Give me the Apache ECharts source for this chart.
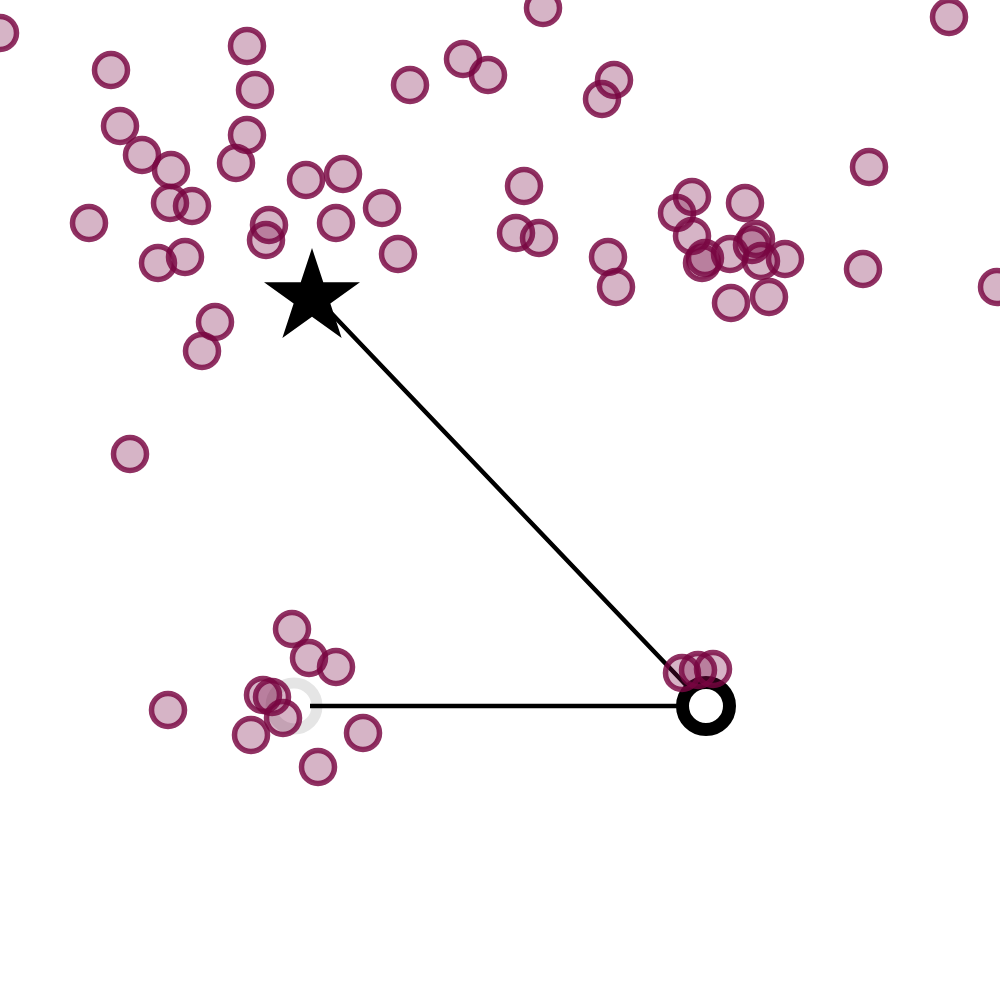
<!DOCTYPE html>
<html>
<head>
<meta charset="utf-8">
<script src="https://cdn.jsdelivr.net/npm/echarts@6/dist/echarts.min.js"></script>
<style>html,body{margin:0;padding:0;background:#fff}#c{width:1000px;height:1000px}</style>
</head>
<body>
<div id="c"></div>
<script>
// Scatter points (x, y) in chart units (y grows downward)
const pointsX = [0,111,247,255,120,142,171,170,192,89,247,236,269,266,158,185,306,343,336,382,398,215,202,130,
  410,463,488,543,614,602,524,516,539,608,616,949,869,863,997,
  692,677,692,745,756,752,705,702,730,761,785,731,769,
  682,698,713,
  292,309,336,263,272,283,251,363,318,168];
const pointsY = [33,70,46,90,126,155,170,203,206,223,135,163,225,240,263,257,180,174,223,208,254,322,351,454,
  85,59,75,8,80,99,186,233,238,257,287,17,167,269,287,
  197,213,236,203,239,245,258,263,254,261,259,303,297,
  673,670,669,
  629,658,667,695,697,718,735,733,767,710];
// Route: star -> ring -> start
const routeX = [312,706,310];
const routeY = [293,706,706];
const starPt = [312,293];
const ringPt = [706,706];
const startPt = [294,706];

const pts = pointsX.map((x,i)=>[x,pointsY[i]]);
const route = routeX.map((x,i)=>[x,routeY[i]]);

const starPath = 'path://M50,0 L61.2,34.5 L97.6,34.5 L68.2,55.9 L79.4,90.5 L50,69.1 L20.6,90.5 L31.8,55.9 L2.4,34.5 L38.8,34.5 Z';

const chart = echarts.init(document.getElementById('c'), null, {renderer:'canvas'});
chart.setOption({
  animation:false,
  backgroundColor:'#ffffff',
  grid:{left:0,right:0,top:0,bottom:0},
  xAxis:{type:'value',min:0,max:1000,show:false},
  yAxis:{type:'value',min:0,max:1000,inverse:true,show:false},
  series:[
    {type:'scatter',data:[startPt],symbol:'circle',symbolSize:46,z:1,
     itemStyle:{opacity:1,color:'rgba(255,255,255,0)',borderColor:'rgba(0,0,0,0.1)',borderWidth:11},silent:true},
    {type:'line',data:route,showSymbol:false,symbol:'none',z:2,
     lineStyle:{color:'#000',width:4.5,join:'round'}},
    {type:'scatter',data:[ringPt],symbol:'circle',symbolSize:47,z:3,
     itemStyle:{opacity:1,color:'#fff',borderColor:'#000',borderWidth:13}},
    {type:'scatter',data:[starPt],symbol:starPath,symbolSize:[96,90],z:3,
     itemStyle:{opacity:1,color:'#000'}},
    {type:'scatter',data:pts,symbol:'circle',symbolSize:33,z:5,clip:false,
     itemStyle:{opacity:1,color:'rgba(120,5,65,0.3)',borderColor:'rgba(120,5,65,0.82)',borderWidth:5.5}}
  ]
});
</script>
</body>
</html>
